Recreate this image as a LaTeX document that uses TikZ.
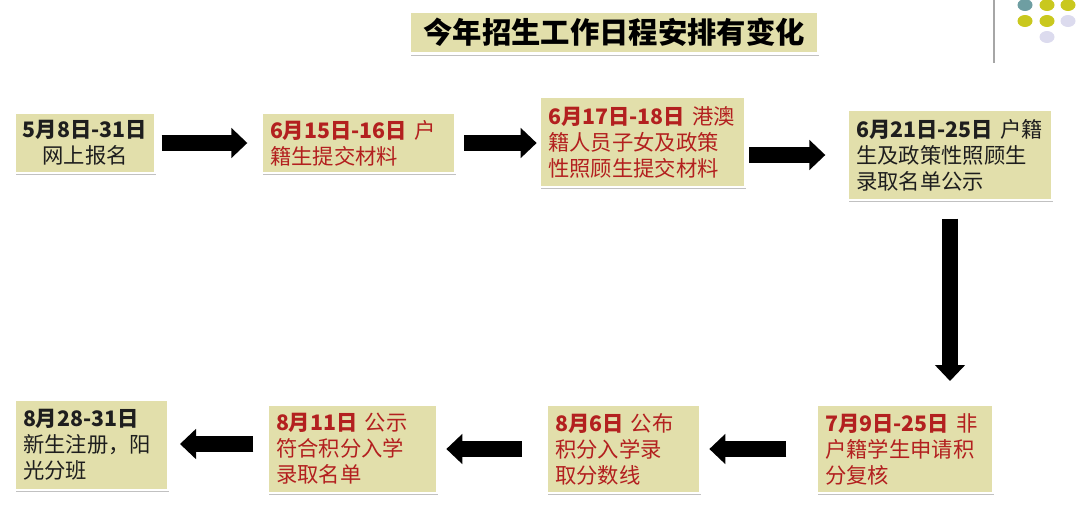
\documentclass[tikz,border=0pt]{standalone}
\usepackage{fontspec}
\setmainfont{Noto Sans CJK SC}
\usetikzlibrary{arrows.meta,shadows}
\definecolor{boxfill}{HTML}{E2DFAB}
\definecolor{redtxt}{HTML}{B3201F}
\definecolor{blktxt}{HTML}{1E1E1E}
\definecolor{dotteal}{HTML}{6E9EA2}
\definecolor{dotyel}{HTML}{C9C81E}
\definecolor{dotlav}{HTML}{DCDBEE}
\tikzset{
  box/.style={rectangle, fill=boxfill, draw=white, line width=2pt,
    drop shadow={shadow xshift=1pt, shadow yshift=-1.8pt, opacity=0.35, fill=black!70},
    inner xsep=6pt, inner ysep=2pt, align=left,
    font=\fontsize{16pt}{19.5pt}\selectfont},
  redbox/.style={box, text=redtxt},
  blkbox/.style={box, text=blktxt},
  blockarrow/.style={line width=12.5pt, draw=black, -{Triangle[length=12pt, width=22pt]}}
}
\begin{document}
\begin{tikzpicture}[x=0.75pt, y=-0.75pt]
\useasboundingbox (0,0) rectangle (1080,507);
% decorative top-right
\draw[gray!70, line width=1.2pt] (994,0) -- (994,63);
\fill[dotteal] (1025,5) ellipse (7.5 and 6);
\fill[dotyel] (1047,5) ellipse (7.5 and 6);
\fill[dotyel] (1068,5) ellipse (7.5 and 6);
\fill[dotyel] (1025,21) ellipse (7.5 and 6);
\fill[dotyel] (1047,21) ellipse (7.5 and 6);
\fill[dotlav] (1068,21) ellipse (7.5 and 6);
\fill[dotlav] (1047,37) ellipse (7.5 and 6);
% title
\node[box, text=black, minimum width=306pt, minimum height=31pt, align=center,
  font=\fontsize{22pt}{24pt}\selectfont\bfseries] (title) at (614,32.5) {今年招生工作日程安排有变化};
% top row
\node[blkbox, minimum width=105pt, minimum height=45pt, align=center] (b1) at (85,143)
  {\textbf{5月8日-31日}\\网上报名};
\node[redbox, minimum width=144.75pt, minimum height=45pt, text width=132.75pt] (b2) at (358.5,143)
  {\textbf{6月15日-16日} 户\\籍生提交材料};
\node[redbox, minimum width=153.75pt, minimum height=67.5pt, text width=141.75pt] (b3) at (642.5,142)
  {\textbf{6月17日-18日} 港澳\\籍人员子女及政策\\性照顾生提交材料};
\node[blkbox, minimum width=153pt, minimum height=67.5pt, text width=141pt] (b4) at (950,155)
  {\textbf{6月21日-25日} 户籍\\生及政策性照顾生\\录取名单公示};
% bottom row
\node[redbox, minimum width=132pt, minimum height=66pt, text width=120pt] (b5) at (905,449)
  {\textbf{7月9日-25日} 非\\户籍学生申请积\\分复核};
\node[redbox, minimum width=114.75pt, minimum height=66pt, text width=102.75pt] (b6) at (623.5,449)
  {\textbf{8月6日} 公布\\积分入学录\\取分数线};
\node[redbox, minimum width=126.75pt, minimum height=66pt, text width=114.75pt] (b7) at (352.5,449)
  {\textbf{8月11日} 公示\\符合积分入学\\录取名单};
\node[blkbox, minimum width=114.75pt, minimum height=67.5pt, text width=102.75pt] (b8) at (91.5,445)
  {\textbf{8月28-31日}\\新生注册，阳\\光分班};
% arrows
\draw[blockarrow, shorten <=4pt, shorten >=10pt] (b1.east) -- (b2.west);
\draw[blockarrow, shorten <=6pt, shorten >=1.5pt] (b2.east) -- (b2.east -| b3.west);
\draw[blockarrow, shorten <=2pt, shorten >=16pt] (b3.east |- b4.west) -- (b4.west);
\draw[blockarrow, shorten <=13pt, shorten >=17pt] (b4.south) -- (b4.south |- b5.north);
\draw[blockarrow, shorten <=22pt, shorten >=6pt] (b5.west |- b6.east) -- (b6.east);
\draw[blockarrow, shorten <=18pt, shorten >=6pt] (b6.west) -- (b7.east);
\draw[blockarrow, shorten <=10pt, shorten >=8pt] ([yshift=3.75pt]b7.west) -- ([yshift=3.75pt]b7.west -| b8.east);
\end{tikzpicture}
\end{document}
